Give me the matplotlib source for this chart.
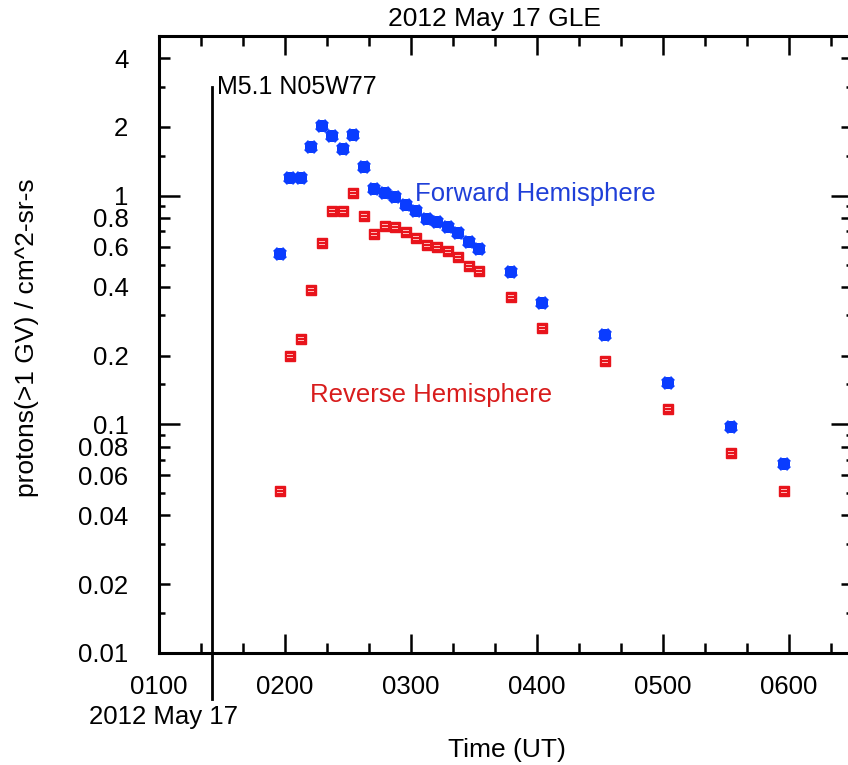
import matplotlib
matplotlib.use('Agg')
import matplotlib.pyplot as plt
from matplotlib.ticker import FixedLocator, NullFormatter

plt.rcParams['font.family'] = ['Liberation Sans', 'DejaVu Sans']

# 5-minute averages, UT on 2012 May 17
ut_times = ['01:57:30', '02:02:30', '02:07:30', '02:12:30', '02:17:30',
            '02:22:30', '02:27:30', '02:32:30', '02:37:30', '02:42:30',
            '02:47:30', '02:52:30', '02:57:30', '03:02:30', '03:07:30',
            '03:12:30', '03:17:30', '03:22:30', '03:27:30', '03:32:30',
            '03:47:30', '04:02:30', '04:32:30', '05:02:30', '05:32:30',
            '05:57:30']
forward_flux = [0.556, 1.20, 1.20, 1.64, 2.01, 1.82, 1.60, 1.85, 1.33, 1.07,
                1.03, 0.99, 0.911, 0.854, 0.791, 0.765, 0.727, 0.689, 0.630, 0.587,
                0.466, 0.340, 0.246, 0.152, 0.097, 0.067]
reverse_flux = [0.051, 0.199, 0.237, 0.389, 0.620, 0.860, 0.860, 1.03, 0.815, 0.682,
                0.737, 0.727, 0.694, 0.656, 0.610, 0.597, 0.573, 0.542, 0.495, 0.469,
                0.360, 0.263, 0.190, 0.117, 0.075, 0.051]

flare_time = '01:25:00'

hour_ticks = [1, 2, 3, 4, 5, 6]
hour_labels = ['0100', '0200', '0300', '0400', '0500', '0600']
y_ticks = [0.01, 0.02, 0.04, 0.06, 0.08, 0.1, 0.2, 0.4, 0.6, 0.8, 1, 2, 4]
y_labels = ['0.01', '0.02', '0.04', '0.06', '0.08', '0.1', '0.2', '0.4', '0.6',
            '0.8', '1', '2', '4']
y_small = [0.015, 0.03, 0.05, 0.07, 0.09, 0.15, 0.3, 0.5, 0.7, 0.9, 1.5, 3]

BLUE = '#0a3cff'
RED = '#e8141c'


def to_hours(s):
    h, m, sec = map(int, s.split(':'))
    return h + m / 60 + sec / 3600


def main():
    fig = plt.figure(figsize=(8.48, 7.65), dpi=100)
    # right spine sits just past the edge of the picture
    ax = fig.add_axes([159 / 848, 112 / 765, 693 / 848, 617 / 765])

    x = [to_hours(t) for t in ut_times]
    ax.plot(x, forward_flux, ls='none', marker='X', ms=9.5, mew=0, color=BLUE)
    ax.plot(x, forward_flux, ls='none', marker='P', ms=8.5, mew=0, color=BLUE)
    ax.plot(x, reverse_flux, ls='none', marker='s', ms=7.5, color=RED)
    ax.plot(x, reverse_flux, ls='none', marker='$=$', ms=5, mfc='#ffb8b8',
            mec='#ffb8b8', mew=0)

    ax.set_yscale('log')
    ax.set_ylim(0.01, 5)
    ax.set_xlim(1, 6.5)

    fx = to_hours(flare_time)
    ax.plot([fx, fx], [3.0, 0.0063], color='k', lw=2, clip_on=False)
    ax.text(fx + 0.045, 2.8, 'M5.1 N05W77', fontsize=18, va='baseline')

    ax.text(3.03, 1.02, 'Forward Hemisphere', color='#1f3fd8', fontsize=18.5,
            va='center')
    ax.text(4.12, 0.135, 'Reverse Hemisphere', color='#d81c1c', fontsize=18.5,
            va='center', ha='right')

    ax.xaxis.set_major_locator(FixedLocator(hour_ticks))
    ax.set_xticklabels(hour_labels)
    ax.xaxis.set_minor_locator(FixedLocator([h + m / 60 for h in range(1, 7)
                                             for m in (20, 40)]))
    ax.yaxis.set_major_locator(FixedLocator(y_ticks))
    ax.set_yticklabels(y_labels)
    ax.yaxis.set_minor_locator(FixedLocator(y_small))
    ax.yaxis.set_minor_formatter(NullFormatter())

    ax.tick_params(which='both', direction='in', top=True, right=True, width=1.8,
                   labelsize=18.5, colors='k')
    ax.tick_params(axis='x', which='major', length=14, pad=16)
    ax.tick_params(axis='x', which='minor', length=7)
    ax.tick_params(axis='y', which='major', length=8, pad=22)
    ax.tick_params(axis='y', which='minor', length=4)
    for t, v in zip(ax.yaxis.get_major_ticks(), y_ticks):
        if v in (0.01, 0.1, 1):
            t.tick1line.set_markersize(15)
            t.tick2line.set_markersize(15)

    for side in ('left', 'bottom', 'top', 'right'):
        ax.spines[side].set_linewidth(2.2)

    fig.text(495 / 848, 1 - 19 / 765, '2012 May 17 GLE', fontsize=19,
             ha='center', va='center')
    fig.text(27 / 848, 1 - 338 / 765, 'protons(>1 GV) / cm^2-sr-s', fontsize=19,
             rotation=90, ha='center', va='center')
    fig.text(238 / 848, 1 - 717 / 765, '2012 May 17', fontsize=18.5,
             ha='right', va='center')
    fig.text(507 / 848, 1 - 750 / 765, 'Time (UT)', fontsize=19,
             ha='center', va='center')

    fig.savefig('out.png', dpi=100)


if __name__ == '__main__':
    main()
